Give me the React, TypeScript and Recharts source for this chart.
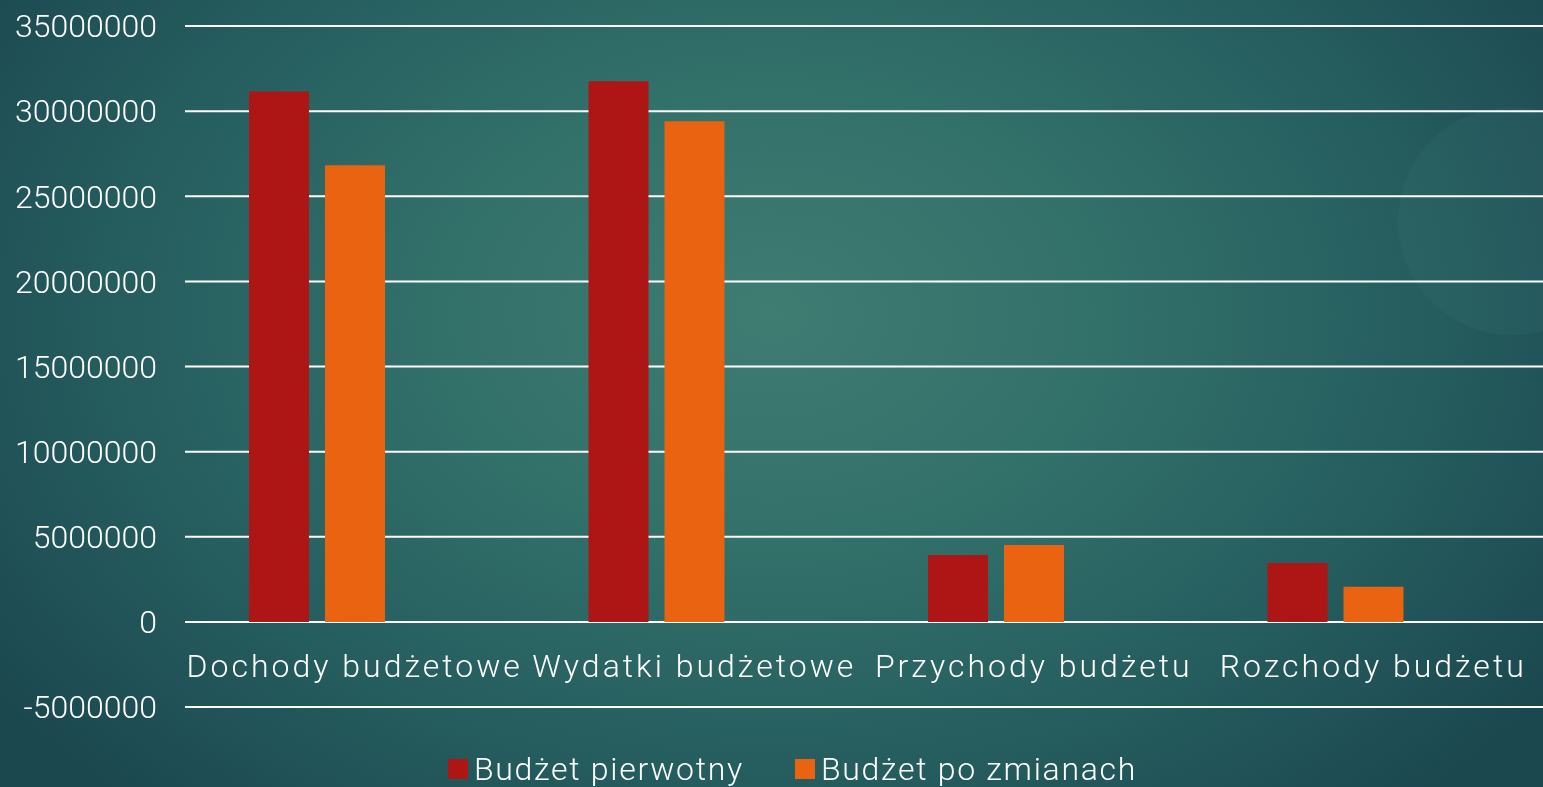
import React from "react";
import { BarChart, Bar, XAxis, YAxis, CartesianGrid, Legend } from "recharts";

const categories = ["Dochody budżetowe", "Wydatki budżetowe", "Przychody budżetu", "Rozchody budżetu"];
const budzetPierwotny = [31150000, 31750000, 3930000, 3460000];
const budzetPoZmianach = [26820000, 29400000, 4520000, 2060000];
const seriesNames = ["Budżet pierwotny", "Budżet po zmianach"];
const seriesColors = ["#AE1515", "#E96311"];
const yTicks = [-5000000, 0, 5000000, 10000000, 15000000, 20000000, 25000000, 30000000, 35000000];

const data = categories.map((c, i) => ({
  name: c,
  a: budzetPierwotny[i],
  b: budzetPoZmianach[i],
  c: null as number | null,
}));

const FONT = "Roboto, 'Liberation Sans', sans-serif";

const CategoryTick = (props: any) => {
  const { x, y, payload } = props;
  return (
    <text x={x} y={y - 38} textAnchor="middle" fill="#ffffff" fontSize={32} fontFamily={FONT} fontWeight={300} letterSpacing={3}>
      {payload.value}
    </text>
  );
};

const LegendContent = () => (
  <div style={{ height: 36, display: "flex", alignItems: "center", paddingLeft: 448, fontFamily: FONT, fontWeight: 300, fontSize: 32, color: "#fff", letterSpacing: 1.7, whiteSpace: "nowrap" }}>
    {seriesNames.map((n, i) => (
      <div key={n} style={{ display: "flex", alignItems: "center", marginRight: 51 }}>
        <div style={{ width: 20, height: 20, background: seriesColors[i], marginRight: 6 }} />
        <span>{n}</span>
      </div>
    ))}
  </div>
);

export default function App() {
  return (
    <div
      style={{
        position: "fixed",
        left: 0,
        top: 0,
        width: 1543,
        height: 787,
        overflow: "hidden",
        background:
          "radial-gradient(ellipse 62% 85% at 50% 40%, #3f7c72 0%, #32706a 35%, #255c5e 70%, #1b474f 100%)",
      }}
    >
      <div
        style={{
          position: "absolute",
          left: 1398,
          top: 107,
          width: 228,
          height: 228,
          borderRadius: "50%",
          background: "rgba(70,130,135,0.12)",
        }}
      />
      <div style={{ position: "absolute", left: 0, top: 0 }}>
        <BarChart
          width={1543}
          height={787}
          data={data}
          margin={{ top: 26, right: 0, left: 0, bottom: 0 }}
          barGap={16}
        >
          <CartesianGrid vertical={false} stroke="#ffffff" strokeWidth={2} />
          <XAxis
            dataKey="name"
            height={44}
            axisLine={false}
            tickLine={false}
            tick={<CategoryTick />}
            interval={0}
          />
          <YAxis
            width={185}
            domain={[-5000000, 35000000]}
            ticks={yTicks}
            axisLine={false}
            tickLine={false}
            tickMargin={22}
            interval={0}
            tick={{ fill: "#ffffff", fontSize: 32, fontFamily: FONT, fontWeight: 300 }}
          />
          <Legend verticalAlign="bottom" content={<LegendContent />} />
          <Bar dataKey="a" name={seriesNames[0]} fill={seriesColors[0]} barSize={60} isAnimationActive={false} />
          <Bar dataKey="b" name={seriesNames[1]} fill={seriesColors[1]} barSize={60} isAnimationActive={false} />
          <Bar dataKey="c" name="" fill="#000000" barSize={60} legendType="none" isAnimationActive={false} />
        </BarChart>
      </div>
    </div>
  );
}
